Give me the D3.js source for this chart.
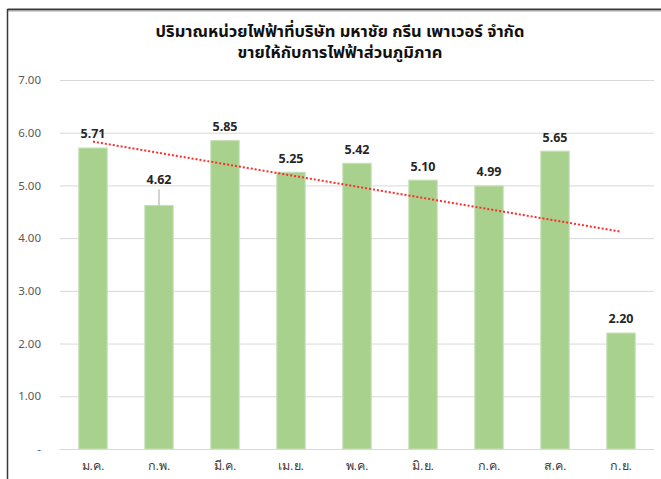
<!DOCTYPE html>
<html>
<head>
<meta charset="utf-8">
<script src="https://cdn.jsdelivr.net/npm/d3@7"></script>
<style>
  body { margin: 0; background: #fff; }
  svg { display: block; font-family: Tahoma, "Noto Sans Thai", "Noto Sans", "DejaVu Sans", sans-serif; }
</style>
</head>
<body>
<div id="chart-area"></div>
<script>
const months = ["ม.ค.", "ก.พ.", "มี.ค.", "เม.ย.", "พ.ค.", "มิ.ย.", "ก.ค.", "ส.ค.", "ก.ย."]
const units = [5.71, 4.62, 5.85, 5.25, 5.42, 5.10, 4.99, 5.65, 2.20]
const yTicks = [0, 1, 2, 3, 4, 5, 6, 7]
const titleLines = ["ปริมาณหน่วยไฟฟ้าที่บริษัท มหาชัย กรีน เพาเวอร์ จำกัด", "ขายให้กับการไฟฟ้าส่วนภูมิภาค"]

const W = 661, H = 479
const MARGIN = { LEFT: 60, RIGHT: 7, TOP: 80, BOTTOM: 30 }
const WIDTH = W - MARGIN.LEFT - MARGIN.RIGHT
const HEIGHT = H - MARGIN.TOP - MARGIN.BOTTOM

const svg = d3.select("#chart-area").append("svg")
    .attr("width", W)
    .attr("height", H)

// outer frame (only top and left edges visible in the screenshot)
svg.append("line").attr("x1", 7.5).attr("x2", W).attr("y1", 9.5).attr("y2", 9.5)
    .attr("stroke", "#3a3a3a").attr("stroke-width", 2)
svg.append("line").attr("x1", 7).attr("x2", W).attr("y1", 11).attr("y2", 11)
    .attr("stroke", "#aaa").attr("stroke-width", 1)
svg.append("line").attr("x1", 7.5).attr("x2", 7.5).attr("y1", 9).attr("y2", H)
    .attr("stroke", "#3a3a3a").attr("stroke-width", 1.5)

// title, one text per line
svg.selectAll("text.title").data(titleLines).enter().append("text")
    .attr("class", "title")
    .attr("x", 340).attr("y", (d, i) => 37 + i * 21)
    .attr("text-anchor", "middle")
    .attr("font-size", 16.5).attr("font-weight", "bold").attr("fill", "#111")
    .text(d => d)

const g = svg.append("g")
    .attr("transform", `translate(${MARGIN.LEFT},${MARGIN.TOP})`)

const x = d3.scaleBand()
    .domain(months)
    .range([0, WIDTH])
    .paddingInner(0.57)
    .paddingOuter(0.285)

const y = d3.scaleLinear()
    .domain([0, 7])
    .range([HEIGHT, 0])

// gridlines
g.append("g")
    .call(d3.axisLeft(y).tickValues(yTicks).tickSize(-WIDTH).tickFormat(""))
    .call(a => a.select(".domain").remove())
    .call(a => a.selectAll("line").attr("stroke", "#d9d9d9").attr("stroke-width", 1))

// y tick labels
g.append("g")
    .attr("transform", "translate(-16,0)")
    .call(d3.axisLeft(y).tickValues(yTicks).tickSize(0)
        .tickFormat(d => d === 0 ? "-" : d3.format(".2f")(d)))
    .call(a => a.select(".domain").remove())
    .call(a => a.selectAll("text").attr("font-size", 11.5).attr("fill", "#595959")
        .attr("font-family", "'Noto Sans', sans-serif"))

// bars
g.selectAll("rect.bar").data(units).enter().append("rect")
    .attr("class", "bar")
    .attr("x", (d, i) => x(months[i]))
    .attr("y", d => y(d))
    .attr("width", x.bandwidth())
    .attr("height", d => HEIGHT - y(d))
    .attr("fill", "#a9d18e")
    .attr("stroke", "#c5e0b4").attr("stroke-width", 1)

// x axis
g.append("g")
    .attr("transform", `translate(0,${HEIGHT})`)
    .call(d3.axisBottom(x).tickSize(0).tickPadding(12))
    .call(a => a.select(".domain").attr("stroke", "#d9d9d9"))
    .call(a => a.selectAll("text").attr("font-size", 12.5).attr("fill", "#404040"))

// linear trendline
const xs = units.map((d, i) => i + 1)
const mx = d3.mean(xs), my = d3.mean(units)
const slope = d3.sum(xs, (v, i) => (v - mx) * (units[i] - my)) / d3.sum(xs, v => (v - mx) ** 2)
const icpt = my - slope * mx
const trend = [1, units.length].map(v => [v, icpt + slope * v])
g.append("path")
    .datum(trend)
    .attr("d", d3.line().x(d => x(months[d[0] - 1]) + x.bandwidth() / 2).y(d => y(d[1])))
    .attr("fill", "none")
    .attr("stroke", "#ff2a2a")
    .attr("stroke-width", 2)
    .attr("stroke-dasharray", "2,2")

// data labels (Feb label pushed up with a leader line)
const lift = units.map((d, i) => i === 1 ? 26 : 14)
g.selectAll("line.leader").data(units.filter((d, i) => i === 1)).enter().append("line")
    .attr("x1", x(months[1]) + x.bandwidth() / 2).attr("x2", x(months[1]) + x.bandwidth() / 2)
    .attr("y1", d => y(d) - 16).attr("y2", d => y(d))
    .attr("stroke", "#a6a6a6")
g.selectAll("text.lbl").data(units).enter().append("text")
    .attr("class", "lbl")
    .attr("x", (d, i) => x(months[i]) + x.bandwidth() / 2)
    .attr("y", (d, i) => y(d) - lift[i])
    .attr("dy", "0.35em")
    .attr("text-anchor", "middle")
    .attr("font-size", 12.5).attr("font-weight", "bold").attr("fill", "#262626")
    .attr("font-family", "'Noto Sans', sans-serif")
    .text(d => d3.format(".2f")(d))
</script>
</body>
</html>
